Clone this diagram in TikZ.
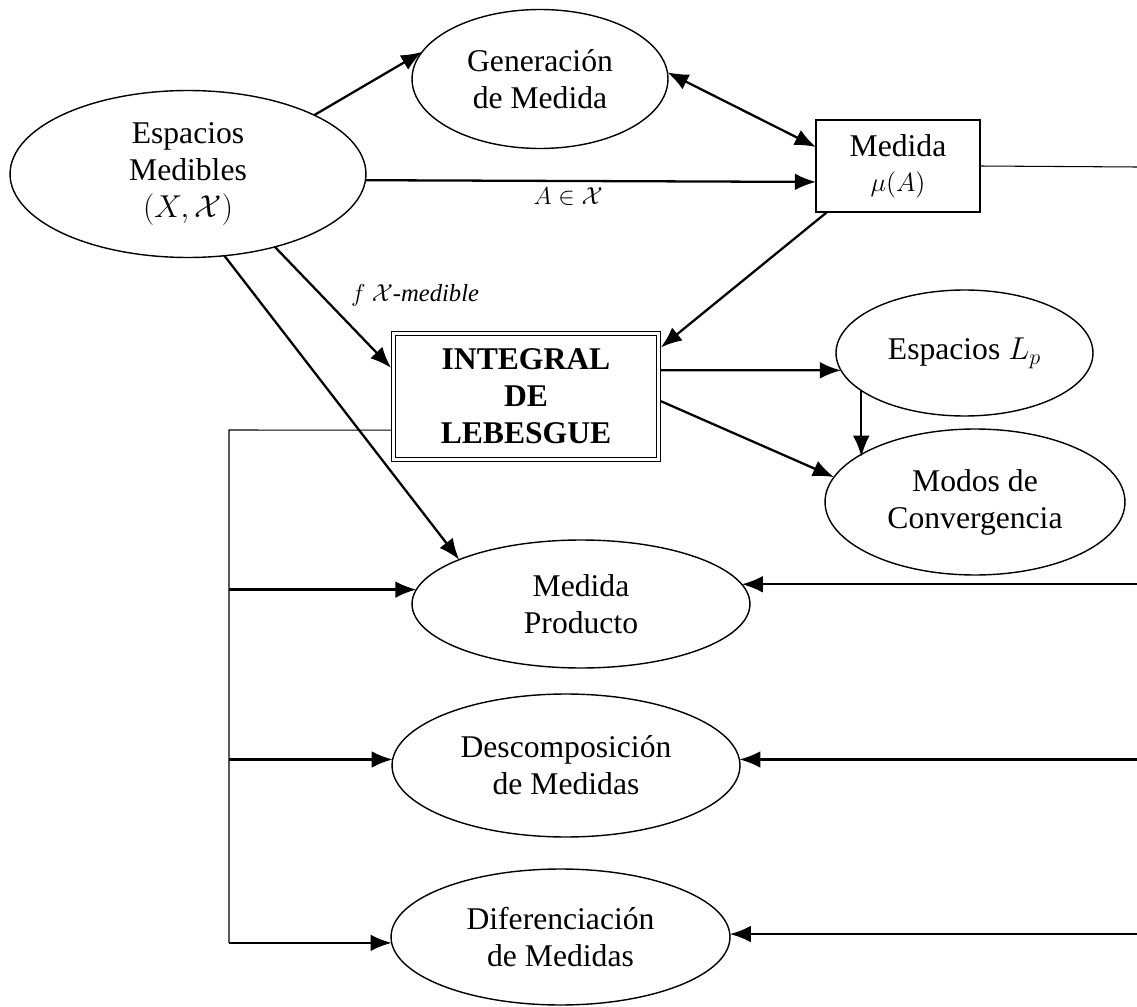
\documentclass[tikz,border=0pt]{standalone}
\usepackage{fix-cm}
\usepackage{amsmath}
\usepackage{amssymb}
\usepackage{fontspec}
\setmainfont{Liberation Serif}
\usetikzlibrary{shapes.geometric,arrows.meta}

\begin{document}
\begin{tikzpicture}[>={Latex[length=12pt,width=9.5pt]}, x=0.02cm, y=-0.02cm,
  tema/.style={draw, ellipse, line width=0.8pt, inner sep=0pt, outer sep=0pt, align=center, font=\fontsize{18}{21}\selectfont},
  caja/.style={draw, rectangle, line width=0.8pt, inner sep=0pt, outer sep=0pt, align=center, font=\fontsize{18}{21}\selectfont},
  flecha/.style={->, line width=1.3pt},
  linea/.style={line width=0.6pt},
  etiqueta/.style={font=\fontsize{14}{16}\selectfont}]
\useasboundingbox (0,0) rectangle (1137,1007);
\node[tema, minimum width=7.12cm, minimum height=3.34cm] (esp) at (188,174) {Espacios\\Medibles\\$(X,\mathcal{X})$};
\node[tema, minimum width=5.12cm, minimum height=2.78cm] (gen) at (540,79) {Generación\\de Medida};
\node[caja, minimum width=3.28cm, minimum height=1.84cm] (med) at (898,166) {Medida\\[-1pt]{\fontsize{15}{17}\selectfont$\mu(A)$}};
\node[caja, double, double distance=1.6pt, line width=0.6pt, outer sep=1.4pt, minimum width=5.3cm, minimum height=2.52cm, font=\fontsize{18}{21}\selectfont\bfseries] (int) at (526,396.5) {INTEGRAL\\DE\\LEBESGUE};
\node[tema, minimum width=5.14cm, minimum height=2.52cm] (lp) at (964.5,353) {Espacios $L_p$};
\node[tema, minimum width=6cm, minimum height=2.92cm] (modos) at (975,502) {Modos de\\Convergencia};
\node[tema, minimum width=6.76cm, minimum height=2.56cm] (prod) at (581,604) {Medida\\Producto};
\node[tema, minimum width=6.96cm, minimum height=2.86cm] (desc) at (566,765.5) {Descomposición\\de Medidas};
\node[tema, minimum width=6.78cm, minimum height=2.72cm] (dif) at (560.5,937) {Diferenciación\\de Medidas};
\coordinate (busT) at (229,430);
\coordinate (der) at (1137,167);
% flechas superiores
\draw[flecha] (esp.25) -- (gen.167);
\draw[line width=1.3pt, <->] (gen.3) -- (med.167);
\draw[flecha] (esp.358) -- node[below, pos=0.45, etiqueta] (etqA) {$A\in\mathcal{X}$} (med.191);
\draw[flecha] (med.213) -- (int.20);
\draw[flecha] (esp.-40) -- node[right=13pt, pos=0.4, etiqueta] (etqf) {$f\ \mathcal{X}$\textit{-medible}} (int.168);
\draw[flecha] (esp.-66) -- (prod.160);
\draw[flecha] (int.11) -- (lp.188);
\draw[flecha] (int.-2) -- (modos.170);
\draw[flecha] (lp.200) -- (lp.200 |- modos.159);
% linea izquierda
\draw[linea] (int.194) -- (busT) -- (busT |- dif.182);
\draw[flecha] (busT |- prod.175) -- (prod.175);
\draw[flecha] (busT |- desc.178) -- (desc.178);
\draw[flecha] (busT |- dif.182) -- (dif.182);
% linea derecha
\draw[linea] (med.east) -- (der);
\draw[flecha] (der |- prod.7) -- (prod.7);
\draw[flecha] (der |- desc.2) -- (desc.2);
\draw[flecha] (der |- dif.1) -- (dif.1);
\end{tikzpicture}
\end{document}
